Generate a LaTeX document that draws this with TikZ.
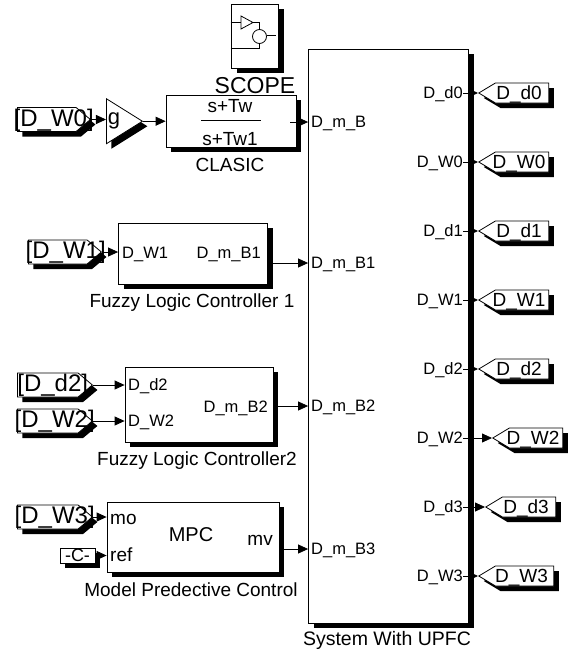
\documentclass[tikz,border=0pt]{standalone}
\usepackage{fontspec}
\setmainfont{Liberation Sans}
\usetikzlibrary{arrows.meta,shapes.geometric,shapes.symbols,shadows}
\newlength{\ShadowSize}
\setlength{\ShadowSize}{5pt}
\tikzset{
  solid shadow/.style={drop shadow={shadow xshift=\ShadowSize, shadow yshift=-\ShadowSize, fill=black, opacity=1}},
  sim block/.style={draw, fill=white, rectangle, inner sep=0pt, line width=0.8pt, solid shadow},
  tag base/.style={draw, fill=white, signal, signal from=nowhere, inner sep=0pt, minimum height=24pt, signal pointer angle=80, line width=0.8pt, solid shadow},
  from tag/.style={tag base, signal to=east, minimum width=75pt, anchor=west},
  goto tag/.style={tag base, signal to=west, minimum height=20pt, minimum width=70pt, signal pointer angle=62, anchor=west},
  tag text/.style={font=\fontsize{24}{26}\selectfont, text depth=0pt, yshift=2pt},
  goto text/.style={font=\fontsize{19}{22}\selectfont, text depth=0pt},
  port/.style={font=\fontsize{16.5}{18}\selectfont, inner sep=0pt, text depth=0pt},
  big port/.style={font=\fontsize{19}{21}\selectfont, inner sep=0pt},
  caption/.style={font=\fontsize{19}{21}\selectfont, inner sep=0pt},
  sig/.style={-{Triangle[length=10pt,width=9pt]}, line width=0.8pt},
  wire/.style={line width=0.8pt},
}

\begin{document}
\begin{tikzpicture}[x=1pt, y=-1pt]
  \useasboundingbox (0,0) rectangle (573,653);

  % scope
  \node[sim block, minimum width=47pt, minimum height=64pt] (scopeBox) at (255,36) {};
  \draw[wire] (241,16) -- (253,22.5) -- (241,29) -- cycle;
  \draw[wire] (230.5,22.5) -- (241,22.5) (253,22.5) -- (259,22.5) -- (259,30);
  \draw[wire] (259.5,36.5) circle (7);
  \draw[wire] (266.5,35.5) -- (276,35.5) (230.5,48) -- (259,48) -- (259,43);
  \node[inner sep=0pt, font=\fontsize{23}{25}\selectfont] (scopeText) at (255,86) {SCOPE};

  % system
  \node[sim block, minimum width=160pt, minimum height=574pt] (sys) at (388.5,336) {};
  \node[caption, font=\fontsize{19.5}{21}\selectfont] (sysText) at (387,640) {System With UPFC};
  \node[port, anchor=west] (mB) at (311,122) {D\_m\_B};
  \node[port, anchor=west] (mBA) at (311,263) {D\_m\_B1};
  \node[port, anchor=west] (mBB) at (311,406) {D\_m\_B2};
  \node[port, anchor=west] (mBC) at (311,549) {D\_m\_B3};

  % classic
  \node[from tag, minimum width=73pt, label={[tag text, xshift=7pt]center:[D\_W0]}] (tagWa) at (17,119.5) {};
  \node[draw, fill=white, isosceles triangle, isosceles triangle stretches, inner sep=0pt, minimum width=45pt, minimum height=36pt, line width=0.8pt, solid shadow, anchor=left corner] (gain) at (106,98) {};
  \node[big port, font=\fontsize{22}{24}\selectfont] (gainText) at (114,121) {g};
  \node[sim block, minimum width=130pt, minimum height=52pt] (clasic) at (231,121) {};
  \node[big port] (numText) at (230,106) {s+Tw};
  \node[big port] (denText) at (230,139) {s+Tw1};
  \draw[wire] (201,120) -- (261,120);
  \node[caption] (clasicText) at (230,165) {CLASIC};
  \coordinate (clasicOut) at (290,122);
  \draw[sig] (tagWa.east) -- (gain.west |- tagWa.east);
  \draw[sig] (gain.east) -- (gain.east -| clasic.west);
  \draw[sig] (clasicOut) -- (clasicOut -| sys.west);

  % fuzzy 1
  \node[from tag, minimum width=73pt, label={[tag text, xshift=8pt]center:[D\_W1]}] (tagWb) at (28,252) {};
  \node[sim block, minimum width=149pt, minimum height=61pt] (flcA) at (193,253.5) {};
  \node[port, anchor=west] (flcAin) at (122,253) {D\_W1};
  \node[port, anchor=east] (flcAoutText) at (261,253) {D\_m\_B1};
  \node[caption] (flcAText) at (192,303) {Fuzzy Logic Controller 1};
  \coordinate (flcAout) at (272,263);
  \draw[sig] (tagWb.east) -- (tagWb.east -| flcA.west);
  \draw[wire] (flcA.east |- flcAoutText) -- ++(5,0);
  \draw[sig] (flcAout) -- (flcAout -| sys.west);

  % fuzzy 2
  \node[from tag, label={[tag text, xshift=5pt]center:[D\_d2]}] (tagD) at (17,385) {};
  \node[from tag, label={[tag text, xshift=7pt]center:[D\_W2]}] (tagWc) at (17,421) {};
  \node[sim block, minimum width=148pt, minimum height=75pt] (flcB) at (199,404.5) {};
  \node[port, anchor=west] (flcBinA) at (128,385) {D\_d2};
  \node[port, anchor=west] (flcBinB) at (128,421) {D\_W2};
  \node[port, anchor=east] (flcBoutText) at (268,407) {D\_m\_B2};
  \node[caption] (flcBText) at (197,461) {Fuzzy Logic Controller2};
  \coordinate (flcBout) at (277,406);
  \draw[sig] (tagD.east) -- (tagD.east -| flcB.west);
  \draw[sig] (tagWc.east) -- (tagWc.east -| flcB.west);
  \draw[sig] (flcBout) -- (flcBout -| sys.west);

  % mpc
  \node[from tag, label={[tag text, xshift=7pt]center:[D\_W3]}] (tagWd) at (17,517) {};
  \node[sim block, minimum width=35pt, minimum height=15pt, font=\fontsize{18}{20}\selectfont] (const) at (77.5,555.5) {-C-};
  \node[sim block, minimum width=172pt, minimum height=70pt] (mpc) at (193,537) {};
  \node[big port, anchor=west] (mpcMo) at (110,519) {mo};
  \node[big port, anchor=west] (mpcRef) at (110,555) {ref};
  \node[big port, font=\fontsize{20}{22}\selectfont] (mpcText) at (191,535) {MPC};
  \node[big port, anchor=east] (mpcMv) at (273,540) {mv};
  \node[caption] (mpcName) at (191,590) {Model Predective Control};
  \coordinate (mpcOut) at (284,549);
  \draw[sig] (tagWd.east) -- (tagWd.east -| mpc.west);
  \draw[sig] (const.east) -- (const.east -| mpc.west);
  \draw[wire] (mpc.east |- mpcMv) -- ++(5,0);
  \draw[sig] (mpcOut) -- (mpcOut -| sys.west);

  % outputs
  \node[goto tag, label={[goto text, xshift=-3pt]center:D\_d0}] (outDa) at (478,93) {};
  \node[goto tag, label={[goto text, xshift=-3pt]center:D\_W0}] (outWa) at (478,162) {};
  \node[goto tag, label={[goto text, xshift=-3pt]center:D\_d1}] (outDb) at (478,231) {};
  \node[goto tag, label={[goto text, xshift=-3pt]center:D\_W1}] (outWb) at (478,300) {};
  \node[goto tag, label={[goto text, xshift=-3pt]center:D\_d2}] (outDc) at (478,369) {};
  \node[goto tag, label={[goto text, xshift=-3pt]center:D\_W2}] (outWc) at (492,438) {};
  \node[goto tag, label={[goto text, xshift=-3pt]center:D\_d3}] (outDd) at (485,507) {};
  \node[goto tag, minimum width=75pt, label={[goto text, xshift=-3pt]center:D\_W3}] (outWd) at (478,576) {};
  \node[port, anchor=east] (pDa) at (463,93) {D\_d0};
  \node[port, anchor=east] (pWa) at (463,162) {D\_W0};
  \node[port, anchor=east] (pDb) at (463,231) {D\_d1};
  \node[port, anchor=east] (pWb) at (463,300) {D\_W1};
  \node[port, anchor=east] (pDc) at (463,369) {D\_d2};
  \node[port, anchor=east] (pWc) at (463,438) {D\_W2};
  \node[port, anchor=east] (pDd) at (463,507) {D\_d3};
  \node[port, anchor=east] (pWd) at (463,576) {D\_W3};
  \draw[sig] (pDa.east) -- (outDa.west);
  \draw[sig] (pWa.east) -- (outWa.west);
  \draw[sig] (pDb.east) -- (outDb.west);
  \draw[sig] (pWb.east) -- (outWb.west);
  \draw[sig] (pDc.east) -- (outDc.west);
  \draw[sig] (pWc.east) -- (outWc.west);
  \draw[sig] (pDd.east) -- (outDd.west);
  \draw[sig] (pWd.east) -- (outWd.west);
\end{tikzpicture}
\end{document}
